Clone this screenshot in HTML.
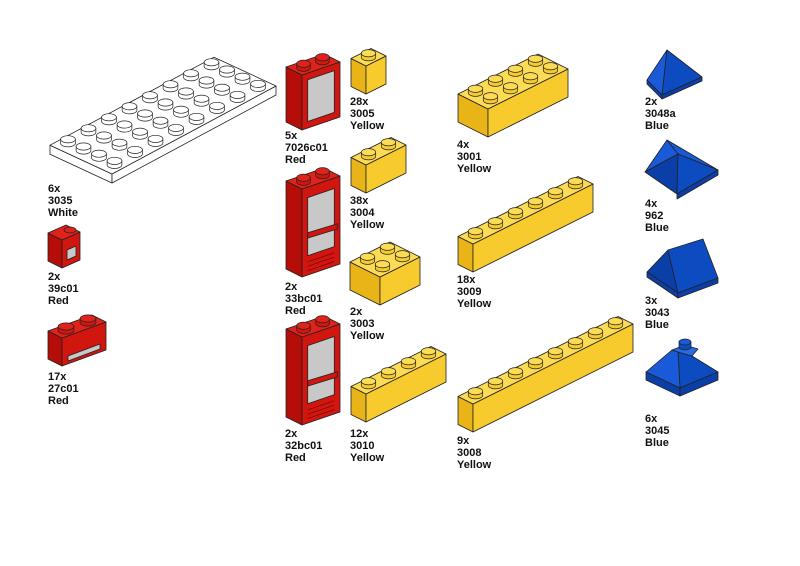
<!DOCTYPE html>
<html><head><meta charset="utf-8"><style>
html,body{margin:0;padding:0;background:#fff;}
#c{position:relative;width:800px;height:566px;overflow:hidden;}
.l{position:absolute;font:bold 11px/12px "Liberation Sans",sans-serif;color:#111;}
svg{position:absolute;left:0;top:0;}
</style></head><body><div id="c">
<svg id="s" width="800" height="566" viewBox="0 0 800 566"></svg>
<div class="l" style="left:48px;top:183px">6x<br>3035<br>White</div>
<div class="l" style="left:48px;top:271px">2x<br>39c01<br>Red</div>
<div class="l" style="left:48px;top:371px">17x<br>27c01<br>Red</div>
<div class="l" style="left:285px;top:130px">5x<br>7026c01<br>Red</div>
<div class="l" style="left:285px;top:281px">2x<br>33bc01<br>Red</div>
<div class="l" style="left:285px;top:428px">2x<br>32bc01<br>Red</div>
<div class="l" style="left:350px;top:96px">28x<br>3005<br>Yellow</div>
<div class="l" style="left:350px;top:195px">38x<br>3004<br>Yellow</div>
<div class="l" style="left:350px;top:306px">2x<br>3003<br>Yellow</div>
<div class="l" style="left:350px;top:428px">12x<br>3010<br>Yellow</div>
<div class="l" style="left:457px;top:139px">4x<br>3001<br>Yellow</div>
<div class="l" style="left:457px;top:274px">18x<br>3009<br>Yellow</div>
<div class="l" style="left:457px;top:435px">9x<br>3008<br>Yellow</div>
<div class="l" style="left:645px;top:96px">2x<br>3048a<br>Blue</div>
<div class="l" style="left:645px;top:198px">4x<br>962<br>Blue</div>
<div class="l" style="left:645px;top:295px">3x<br>3043<br>Blue</div>
<div class="l" style="left:645px;top:413px">6x<br>3045<br>Blue</div>
</div>
<script>
var s=document.getElementById('s'),o='';
function pg(pts,f){o+='<polygon points="'+pts.map(function(p){return p[0].toFixed(1)+','+p[1].toFixed(1)}).join(' ')+'" fill="'+f+'" stroke="#222" stroke-width="0.8" stroke-linejoin="round"/>';}
function ad(a,b,k){return [a[0]+b[0]*k,a[1]+b[1]*k];}
function box(P,L,D,n,m,h,c,studs){
 var T=[P[0],P[1]-h];
 pg([ad(P,D,m),P,T,ad(T,D,m)],c[1]);
 pg([P,ad(P,L,n),ad(ad(P,L,n),[0,-1],h),T],c[2]);
 pg([T,ad(T,L,n),ad(ad(T,L,n),D,m),ad(T,D,m)],c[0]);
 if(!studs)return;
 var rx=L[0]*0.36,ry=3.6,sh=4;
 for(var j=m-1;j>=0;j--)for(var i=0;i<n;i++){
  var cc=ad(ad(T,L,i+0.5),D,j+0.5);
  o+='<path d="M'+(cc[0]-rx)+','+cc[1]+' v'+(-sh)+' h'+(2*rx)+' v'+sh+' a'+rx+','+ry+' 0 0 1 '+(-2*rx)+',0z" fill="'+c[2]+'" stroke="#222" stroke-width="0.7"/>';
  o+='<ellipse cx="'+cc[0]+'" cy="'+(cc[1]-sh)+'" rx="'+rx+'" ry="'+ry+'" fill="'+c[0]+'" stroke="#222" stroke-width="0.7"/>';
 }
}
var Y=['#fddc55','#e9b418','#f7cb2e'],R=['#e0231a','#b50e08','#d1150f'],W=['#fff','#fff','#fff'];
var L=[20,-10],D=[-15,-7.5];
box([112,183],[20.5,-11],[-15.5,-7.2],8,4,9,W,1);
box([366,94],L,D,1,1,28,Y,1);
box([366,193],L,D,2,1,28,Y,1);
box([380,305],L,D,2,2,28,Y,1);
box([366,422],L,D,4,1,28,Y,1);
box([488,137],L,D,4,2,28,Y,1);
box([473,272],L,D,6,1,28,Y,1);
box([473,432],L,D,8,1,28,Y,1);
function win(P,h,w2,extra){
 var RL=[38,-13],DD=[-16,-8];
 box(P,[RL[0]/2,RL[1]/2],DD,2,1,h,R,1);
 var a=ad(P,RL,0.15),b=ad(P,RL,0.85);
 var t=extra?0.22:0.12;
 pg([[a[0],a[1]-h*t],[b[0],b[1]-h*t],[b[0],b[1]-h*0.88],[a[0],a[1]-h*0.88]],'#c8c8c8');
 if(extra){pg([[a[0],a[1]-h*0.42],[b[0]+3,b[1]-h*0.42],[b[0]+3,b[1]-h*0.48],[a[0],a[1]-h*0.48]],R[2]);
  for(var k=1;k<4;k++)o+='<line x1="'+a[0]+'" y1="'+(a[1]-h*0.05*k)+'" x2="'+b[0]+'" y2="'+(b[1]-h*0.05*k)+'" stroke="#600" stroke-width="0.6"/>';}
}
win([302,130],55,0,0);
win([302,277],88,0,1);
win([302,425],88,0,1);
box([62,268],[9,-4],[-14,-7],2,1,28,R,0);
o+='<ellipse cx="70" cy="230" rx="6" ry="3" fill="#e0231a" stroke="#222" stroke-width="0.7"/>';pg([[67,250],[76,246],[76,256],[67,260]],'#c8c8c8');
box([62,366],[22,-8],[-14,-7],2,1,28,R,1);
pg([[68,356],[100,344],[100,349],[68,361]],'#c8c8c8');
var B1='#1a5ad8',B2='#0b3fa8',B3='#0d4bc0';
pg([[667,50],[647,80],[662,95]],B1);pg([[667,50],[662,95],[702,77]],B3);pg([[647,80],[662,95],[662,99],[647,84]],B2);pg([[662,95],[702,77],[702,81],[662,99]],B2);
pg([[667,140],[645,172],[678,154]],B1);pg([[678,154],[645,172],[677,194]],B2);pg([[667,140],[678,154],[718,170]],B1);pg([[678,154],[677,194],[718,170]],B3);pg([[677,194],[718,170],[718,175],[677,199]],B2);
pg([[647,272],[668,250],[678,293]],B2);pg([[668,250],[703,239],[718,278],[678,293]],B3);pg([[647,272],[678,293],[678,298],[647,277]],B2);pg([[678,293],[718,278],[718,283],[678,298]],B2);
// 3045
pg([[678,352],[692,356],[718,372],[680,388]],B3);
pg([[678,352],[680,388],[646,372],[672,350]],B1);
pg([[672,350],[685,345],[698,349],[692,356],[678,352]],'#2a6ae0');
pg([[646,372],[680,388],[680,396],[646,380]],B2);pg([[680,388],[718,372],[718,380],[680,396]],B2);
o+='<path d="M679,347 v-5 h12 v5 a6,3 0 0 1 -12,0z" fill="#0d4bc0" stroke="#222" stroke-width="0.7"/><ellipse cx="685" cy="342" rx="6" ry="3" fill="#1a5ad8" stroke="#222" stroke-width="0.7"/>';
s.innerHTML=o;
</script>
</body></html>
